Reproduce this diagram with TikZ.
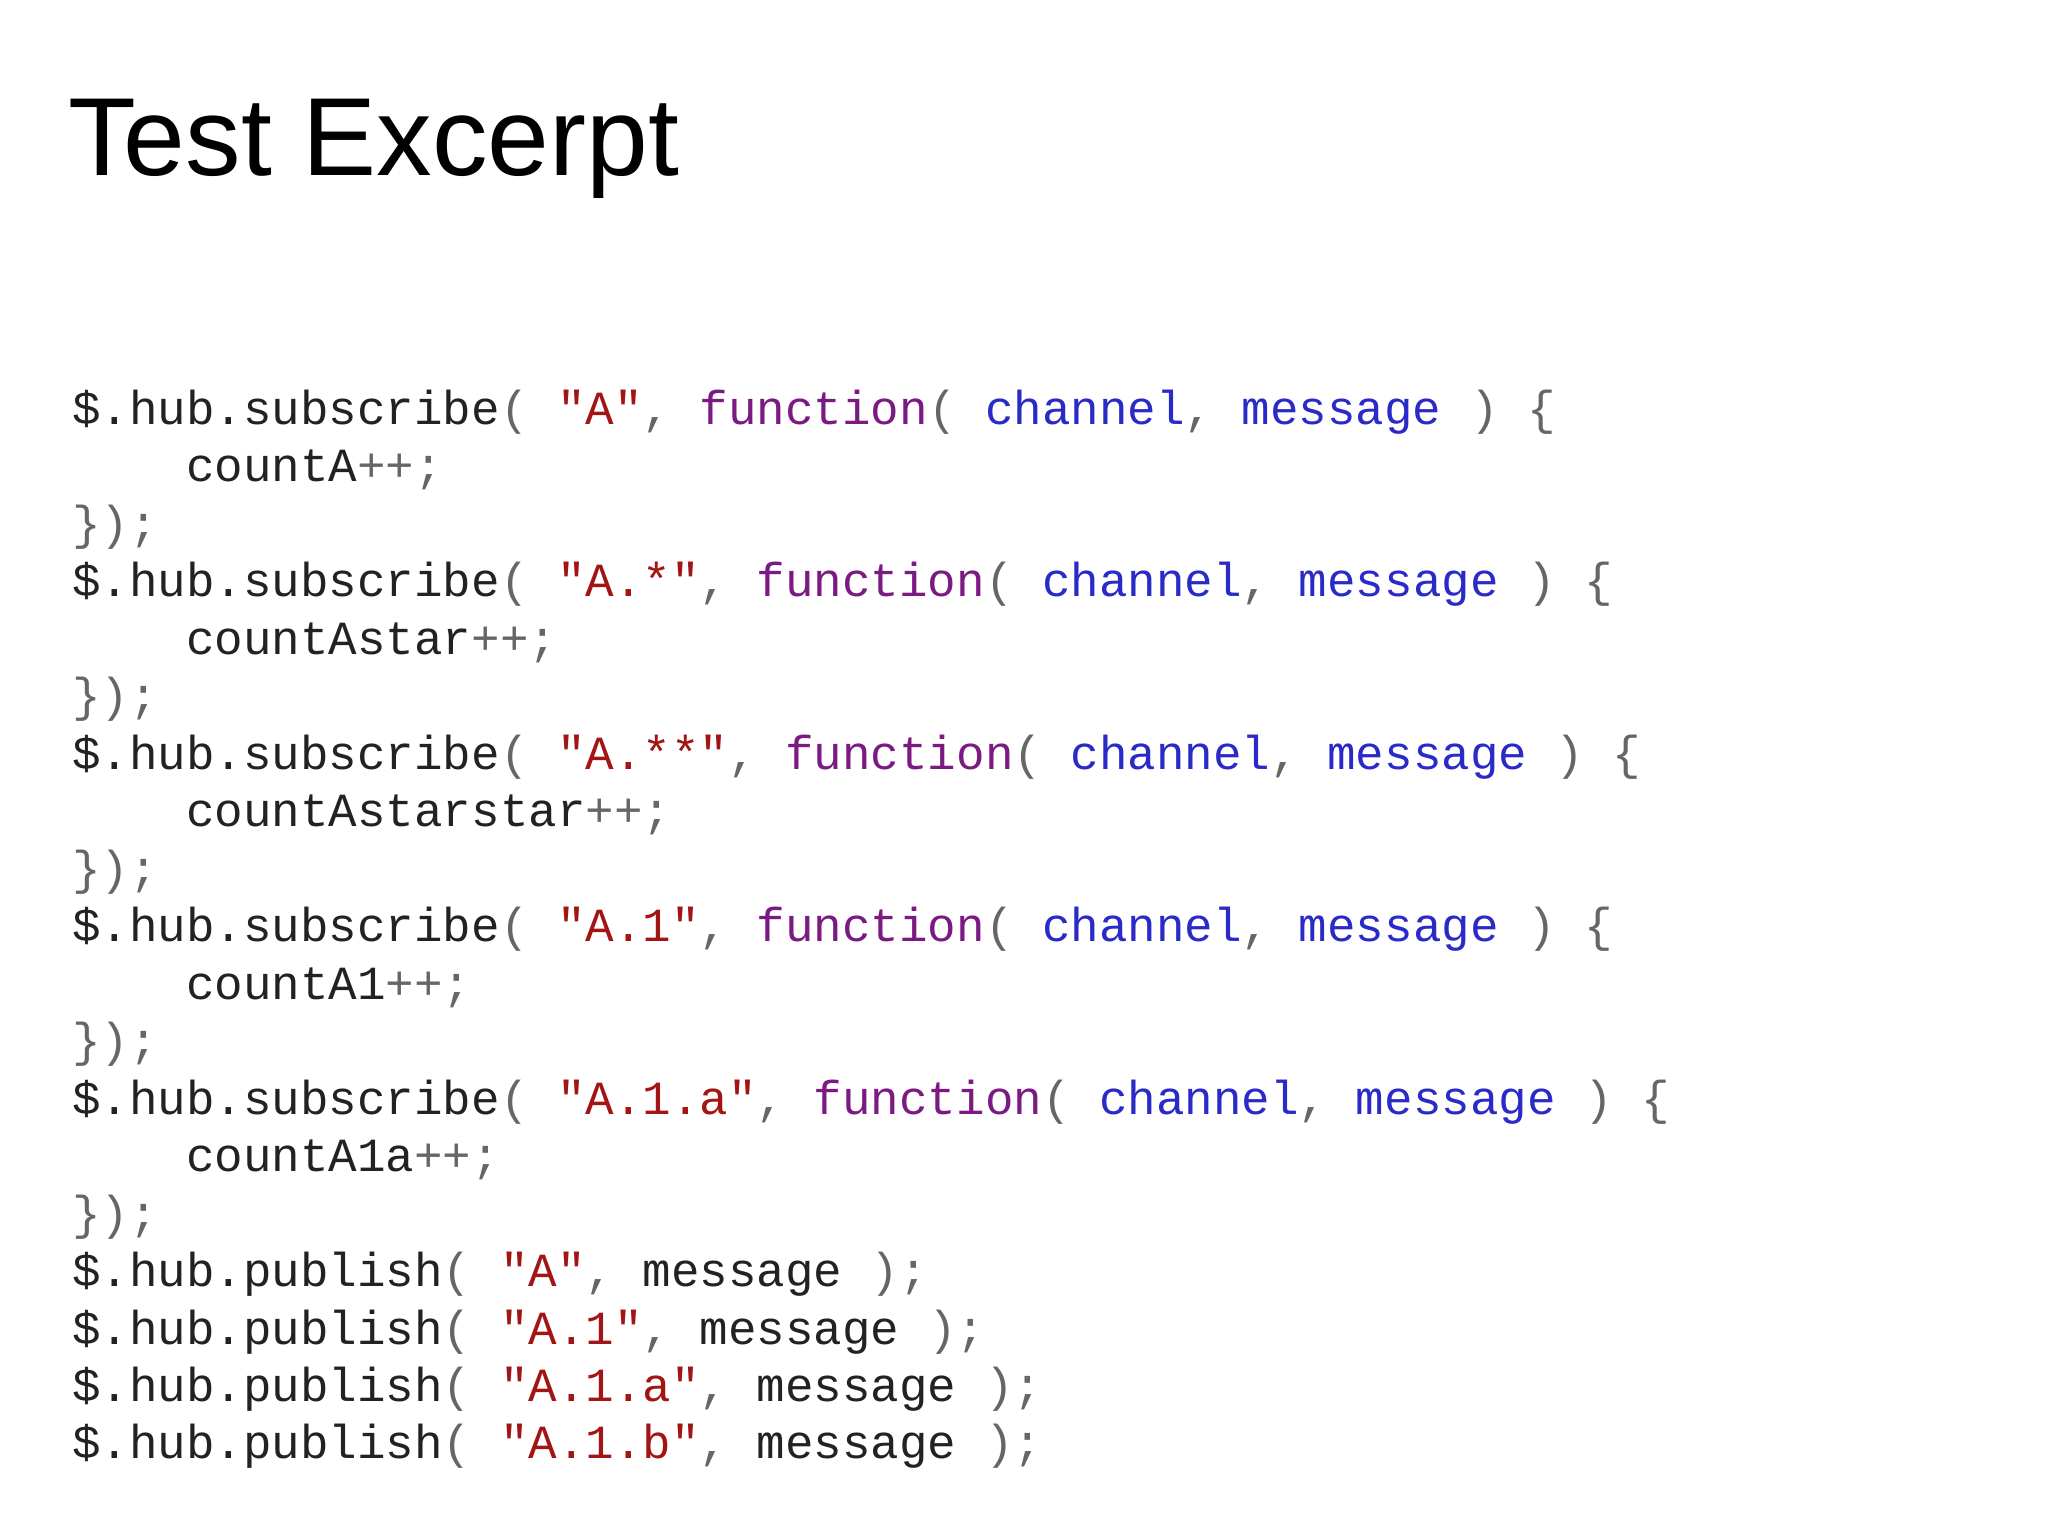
\documentclass[tikz,border=0pt]{standalone}
\usepackage{fontspec}
\setmainfont{Liberation Sans}
\setmonofont{Liberation Mono}
\definecolor{cblack}{HTML}{222222}
\definecolor{cgray}{HTML}{666666}
\definecolor{cred}{HTML}{A31515}
\definecolor{cpur}{HTML}{7B1A82}
\definecolor{cblue}{HTML}{2A2AC8}
\newcommand{\cg}[1]{\textcolor{cgray}{#1}}
\newcommand{\cs}[1]{\textcolor{cred}{#1}}
\newcommand{\cf}[1]{\textcolor{cpur}{#1}}
\newcommand{\cv}[1]{\textcolor{cblue}{#1}}
\newcommand{\hubsub}{\$.hub.subscribe\cg{(}\ }
\newcommand{\hubpub}{\$.hub.publish\cg{(}\ }
\newcommand{\fnsig}{\cf{function}\cg{(}\ \cv{channel}\cg{,}\ \cv{message}\ \cg{)}\ \cg{\{}}
\begin{document}
\begin{tikzpicture}[x=1pt,y=1pt,
  code/.style={anchor=base west,inner sep=0pt,text=cblack,font=\ttfamily\fontsize{36.4}{36}\selectfont}]
\useasboundingbox (0,0) rectangle (1568,-1176);
\fill[white] (0,0) rectangle (1568,-1176);
\node[anchor=base west,inner sep=0pt,font=\fontsize{85}{85}\selectfont] (title) at (52,-134) {Test Excerpt};
\node[code] (l1) at (55,-325) {\hubsub\cs{"A"}\cg{,}\ \fnsig};
\node[code] (l2) at (55,-369) {\ \ \ \ countA\cg{++;}};
\node[code] (l3) at (55,-413) {\cg{\});}};
\node[code] (l4) at (55,-457) {\hubsub\cs{"A.*"}\cg{,}\ \fnsig};
\node[code] (l5) at (55,-501) {\ \ \ \ countAstar\cg{++;}};
\node[code] (l6) at (55,-545) {\cg{\});}};
\node[code] (l7) at (55,-589) {\hubsub\cs{"A.**"}\cg{,}\ \fnsig};
\node[code] (l8) at (55,-633) {\ \ \ \ countAstarstar\cg{++;}};
\node[code] (l9) at (55,-677) {\cg{\});}};
\node[code] (l10) at (55,-721) {\hubsub\cs{"A.1"}\cg{,}\ \fnsig};
\node[code] (l11) at (55,-765) {\ \ \ \ countA1\cg{++;}};
\node[code] (l12) at (55,-809) {\cg{\});}};
\node[code] (l13) at (55,-853) {\hubsub\cs{"A.1.a"}\cg{,}\ \fnsig};
\node[code] (l14) at (55,-897) {\ \ \ \ countA1a\cg{++;}};
\node[code] (l15) at (55,-941) {\cg{\});}};
\node[code] (l16) at (55,-985) {\hubpub\cs{"A"}\cg{,}\ message\ \cg{);}};
\node[code] (l17) at (55,-1029) {\hubpub\cs{"A.1"}\cg{,}\ message\ \cg{);}};
\node[code] (l18) at (55,-1073) {\hubpub\cs{"A.1.a"}\cg{,}\ message\ \cg{);}};
\node[code] (l19) at (55,-1117) {\hubpub\cs{"A.1.b"}\cg{,}\ message\ \cg{);}};
\end{tikzpicture}
\end{document}
